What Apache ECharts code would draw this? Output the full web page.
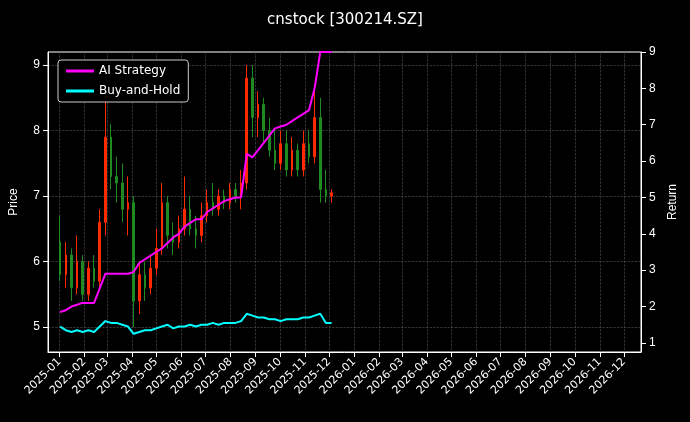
<!DOCTYPE html><html><head><meta charset="utf-8"><script src="https://cdn.jsdelivr.net/npm/echarts@6/dist/echarts.min.js"></script></head><body style="margin:0;background:#000"><div id="c" style="width:690px;height:422px"></div><script>
const start='2025-01-02';
const open=[6.3,5.8,6.1,5.6,6.0,5.5,5.9,5.7,6.6,7.9,7.3,7.2,6.8,6.9,5.4,5.8,5.6,5.9,6.2,6.9,6.4,6.3,6.5,6.8,6.5,6.4,6.7,6.9,6.8,7.0,6.9,7.1,7.0,7.2,8.8,8.2,8.4,8.0,7.7,7.5,7.8,7.4,7.7,7.4,7.8,7.6,8.2,7.1,7.0];
const close=[5.8,6.1,5.6,6.0,5.5,5.9,5.7,6.6,7.9,7.3,7.2,6.8,6.9,5.4,5.8,5.6,5.9,6.2,6.9,6.4,6.3,6.5,6.8,6.5,6.4,6.7,6.9,6.8,7.0,6.9,7.1,7.0,7.2,8.8,8.2,8.4,8.0,7.7,7.5,7.8,7.4,7.7,7.4,7.8,7.6,8.2,7.1,7.0,7.05];
const low=[5.7,5.6,5.4,5.5,5.4,5.4,5.6,5.6,6.4,7.1,6.9,6.6,6.4,5.0,5.2,5.4,5.5,5.8,6.1,6.2,6.1,6.2,6.4,6.4,6.2,6.3,6.6,6.7,6.7,6.8,6.8,6.9,6.8,7.1,7.9,7.9,7.8,7.6,7.4,7.4,7.3,7.3,7.3,7.3,7.5,7.5,6.9,6.9,6.9];
const high=[6.7,6.3,6.2,6.4,6.1,6.0,6.1,6.8,8.5,8.1,7.6,7.5,7.3,7.0,6.0,6.0,6.1,6.5,7.2,7.0,6.6,6.7,7.3,7.0,6.7,6.9,7.1,7.2,7.1,7.1,7.2,7.2,7.4,9.0,9.0,8.6,8.5,8.2,8.0,8.0,8.0,7.9,7.8,8.0,8.0,8.7,8.5,7.4,7.1];
const strategy=[1.85,1.9,2.0,2.05,2.1,2.1,2.1,2.5,2.9,2.9,2.9,2.9,2.9,2.95,3.2,3.3,3.4,3.5,3.6,3.75,3.9,4.0,4.2,4.3,4.4,4.4,4.6,4.7,4.8,4.9,4.95,5.0,5.0,6.2,6.1,6.3,6.5,6.7,6.9,6.95,7.0,7.1,7.2,7.3,7.4,8.0,9.0,9.0,9.0];
const bh=[1.45,1.35,1.3,1.35,1.3,1.35,1.3,1.45,1.6,1.55,1.55,1.5,1.45,1.25,1.3,1.35,1.35,1.4,1.45,1.5,1.4,1.45,1.45,1.5,1.45,1.5,1.5,1.55,1.5,1.55,1.55,1.55,1.6,1.8,1.75,1.7,1.7,1.65,1.65,1.6,1.65,1.65,1.65,1.7,1.7,1.75,1.8,1.55,1.55];
const t0=Date.parse(start);
const dates=open.map((_,i)=>t0+i*7*864e5);
const c=echarts.init(document.getElementById('c'));
const intFmt=v=>Math.abs(v-Math.round(v))<1e-6?String(Math.round(v)):'';
c.setOption({backgroundColor:'#000',animation:false,
title:{text:'cnstock [300214.SZ]',left:'center',top:8,textStyle:{color:'#fff',fontSize:15,fontWeight:'normal',fontFamily:'DejaVu Sans'}},
legend:{left:58,top:60,orient:'vertical',itemWidth:28,itemHeight:3,itemGap:8,padding:[5,8],borderColor:'#ccc',borderWidth:1,borderRadius:3,backgroundColor:'#000',textStyle:{color:'#fff',fontSize:12,fontFamily:'DejaVu Sans'},data:[{name:'AI Strategy',icon:'rect'},{name:'Buy-and-Hold',icon:'rect'}]},
grid:{left:48,right:49,top:52,bottom:70,show:true,borderColor:'#fff',borderWidth:1},
xAxis:{type:'time',min:Date.parse('2024-12-18'),max:Date.parse('2026-12-22'),splitNumber:24,axisLine:{lineStyle:{color:'#fff'}},axisTick:{lineStyle:{color:'#fff'}},
 axisLabel:{color:'#fff',rotate:45,fontSize:11,fontFamily:'DejaVu Sans',formatter:'{yyyy}-{MM}',hideOverlap:false},
 splitLine:{show:true,lineStyle:{color:'#555',type:'dashed',width:0.6}}},
yAxis:[{type:'value',min:4.62,max:9.2,splitNumber:5,name:'Price',nameLocation:'middle',nameGap:28,nameTextStyle:{color:'#fff',fontSize:12},
 axisLine:{show:true,lineStyle:{color:'#fff'}},axisTick:{show:true},axisLabel:{color:'#fff',fontSize:12,showMinLabel:false,showMaxLabel:false,formatter:intFmt},
 splitLine:{show:true,showMinLine:false,showMaxLine:false,lineStyle:{color:'#555',type:'dashed',width:0.6}}},
 {type:'value',min:0.75,max:9,splitNumber:8,name:'Return',nameLocation:'middle',nameGap:22,nameTextStyle:{color:'#fff',fontSize:12},
 axisLine:{show:true,lineStyle:{color:'#fff'}},axisTick:{show:true},axisLabel:{color:'#fff',fontSize:12,showMinLabel:false,formatter:intFmt},splitLine:{show:false}}],
series:[{type:'candlestick',yAxisIndex:0,barWidth:2,data:dates.map((d,i)=>[d,open[i],close[i],low[i],high[i]]),
 itemStyle:{color:'#ff2a00',color0:'#1f8a1f',borderColor:'#ff2a00',borderColor0:'#1f8a1f'}},
{name:'AI Strategy',type:'line',yAxisIndex:1,showSymbol:false,data:dates.map((d,i)=>[d,strategy[i]]),lineStyle:{color:'#ff00ff',width:2},itemStyle:{color:'#ff00ff'}},
{name:'Buy-and-Hold',type:'line',yAxisIndex:1,showSymbol:false,data:dates.map((d,i)=>[d,bh[i]]),lineStyle:{color:'#00ffff',width:2},itemStyle:{color:'#00ffff'}}]});
</script></body></html>
